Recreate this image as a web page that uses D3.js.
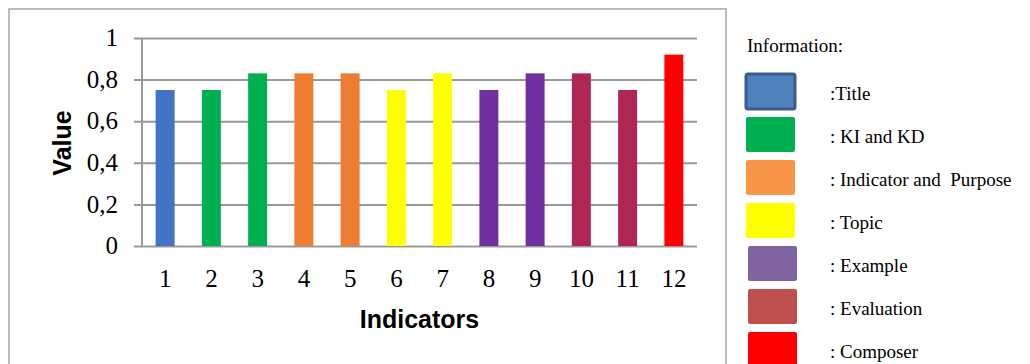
<!DOCTYPE html>
<html>
<head>
<meta charset="utf-8">
<script src="https://cdn.jsdelivr.net/npm/d3@7"></script>
<style>
  html, body { margin: 0; padding: 0; background: #ffffff; }
  svg { display: block; }
  text { white-space: pre; }
</style>
</head>
<body>
<svg id="chart" width="1030" height="364"></svg>
<script>
// Indicator scores
const indicators = ["1", "2", "3", "4", "5", "6", "7", "8", "9", "10", "11", "12"];
const values = [0.75, 0.75, 0.83, 0.83, 0.83, 0.75, 0.83, 0.75, 0.83, 0.83, 0.75, 0.92];
const barColors = ["#4472C4", "#00B050", "#00B050", "#ED7D31", "#ED7D31", "#FFFF00",
                   "#FFFF00", "#7030A0", "#7030A0", "#B02652", "#B02652", "#FF0000"];
const yTicks = [0, 0.2, 0.4, 0.6, 0.8, 1];
const yTickLabels = ["0", "0,2", "0,4", "0,6", "0,8", "1"];

// Legend entries
const legendTitle = "Information:";
const legendLabels = [":Title", ": KI and KD", ": Indicator and  Purpose", ": Topic",
                      ": Example", ": Evaluation", ": Composer"];
const legendColors = ["#4F81BD", "#00B050", "#F79646", "#FFFF00", "#8064A2", "#C0504D", "#FF0000"];

const svg = d3.select("#chart");
const serif = "'Liberation Serif', 'Times New Roman', serif";
const sans = "'Liberation Sans', Arial, sans-serif";

// Chart frame
svg.append("path")
  .attr("d", "M9,364 L9,9 L726,9 L726,364")
  .attr("fill", "none")
  .attr("stroke", "#A6A6A6")
  .attr("stroke-width", 1.5);

const plot = { left: 142, right: 697, top: 38, bottom: 246 };

const x = d3.scaleBand()
  .domain(indicators)
  .range([plot.left, plot.right])
  .paddingInner(0.59)
  .paddingOuter(0.295);

const y = d3.scaleLinear()
  .domain([0, 1])
  .range([plot.bottom, plot.top]);

// Gridlines with short ticks to the left of the axis
const grid = svg.append("g")
  .attr("transform", `translate(${plot.left},0)`)
  .call(d3.axisLeft(y)
    .tickValues(yTicks)
    .tickSize(-(plot.right - plot.left))
    .tickFormat(""));
grid.select(".domain").remove();
grid.selectAll(".tick line")
  .attr("x1", -8)
  .attr("stroke", "#999999")
  .attr("stroke-width", 2);

// Bars
svg.append("g")
  .selectAll("rect")
  .data(values)
  .join("rect")
  .attr("x", (d, i) => x(indicators[i]))
  .attr("y", d => y(d))
  .attr("width", x.bandwidth())
  .attr("height", d => y(0) - y(d))
  .attr("fill", (d, i) => barColors[i]);

// Vertical axis line
svg.append("line")
  .attr("x1", plot.left).attr("x2", plot.left)
  .attr("y1", plot.top).attr("y2", plot.bottom)
  .attr("stroke", "#999999")
  .attr("stroke-width", 2);

// Y tick labels
svg.append("g")
  .selectAll("text")
  .data(yTicks)
  .join("text")
  .attr("x", 118)
  .attr("y", d => y(d))
  .attr("dy", "0.33em")
  .attr("text-anchor", "end")
  .attr("font-family", serif)
  .attr("font-size", 25)
  .attr("fill", "#000")
  .text((d, i) => yTickLabels[i]);

// X tick labels
svg.append("g")
  .selectAll("text")
  .data(indicators)
  .join("text")
  .attr("x", d => x(d) + x.bandwidth() / 2)
  .attr("y", 287)
  .attr("text-anchor", "middle")
  .attr("font-family", serif)
  .attr("font-size", 25)
  .attr("fill", "#000")
  .text(d => d);

// Axis titles
svg.append("text")
  .attr("x", (plot.left + plot.right) / 2)
  .attr("y", 328)
  .attr("text-anchor", "middle")
  .attr("font-family", sans)
  .attr("font-weight", "bold")
  .attr("font-size", 25)
  .attr("fill", "#000")
  .text("Indicators");

svg.append("text")
  .attr("transform", "translate(71,143) rotate(-90)")
  .attr("text-anchor", "middle")
  .attr("font-family", sans)
  .attr("font-weight", "bold")
  .attr("font-size", 25)
  .attr("fill", "#000")
  .text("Value");

// Legend
svg.append("text")
  .attr("x", 747)
  .attr("y", 52)
  .attr("font-family", serif)
  .attr("font-size", 19)
  .attr("fill", "#000")
  .text(legendTitle);

const legendY = d3.scaleLinear().domain([0, 6]).range([74, 332]);

const items = svg.append("g")
  .selectAll("g")
  .data(legendLabels)
  .join("g")
  .attr("transform", (d, i) => `translate(0,${legendY(i)})`);

items.append("rect")
  .attr("x", (d, i) => i < 4 ? 746 : 748)
  .attr("y", 0)
  .attr("width", 49)
  .attr("height", 35)
  .attr("rx", 2)
  .attr("fill", (d, i) => legendColors[i])
  .attr("stroke", (d, i) => i === 0 ? "#385D8A" : "none")
  .attr("stroke-width", (d, i) => i === 0 ? 3 : 0);

items.append("text")
  .attr("x", 830)
  .attr("y", 26)
  .attr("font-family", serif)
  .attr("font-size", 19)
  .attr("fill", "#000")
  .text(d => d);
</script>
</body>
</html>
